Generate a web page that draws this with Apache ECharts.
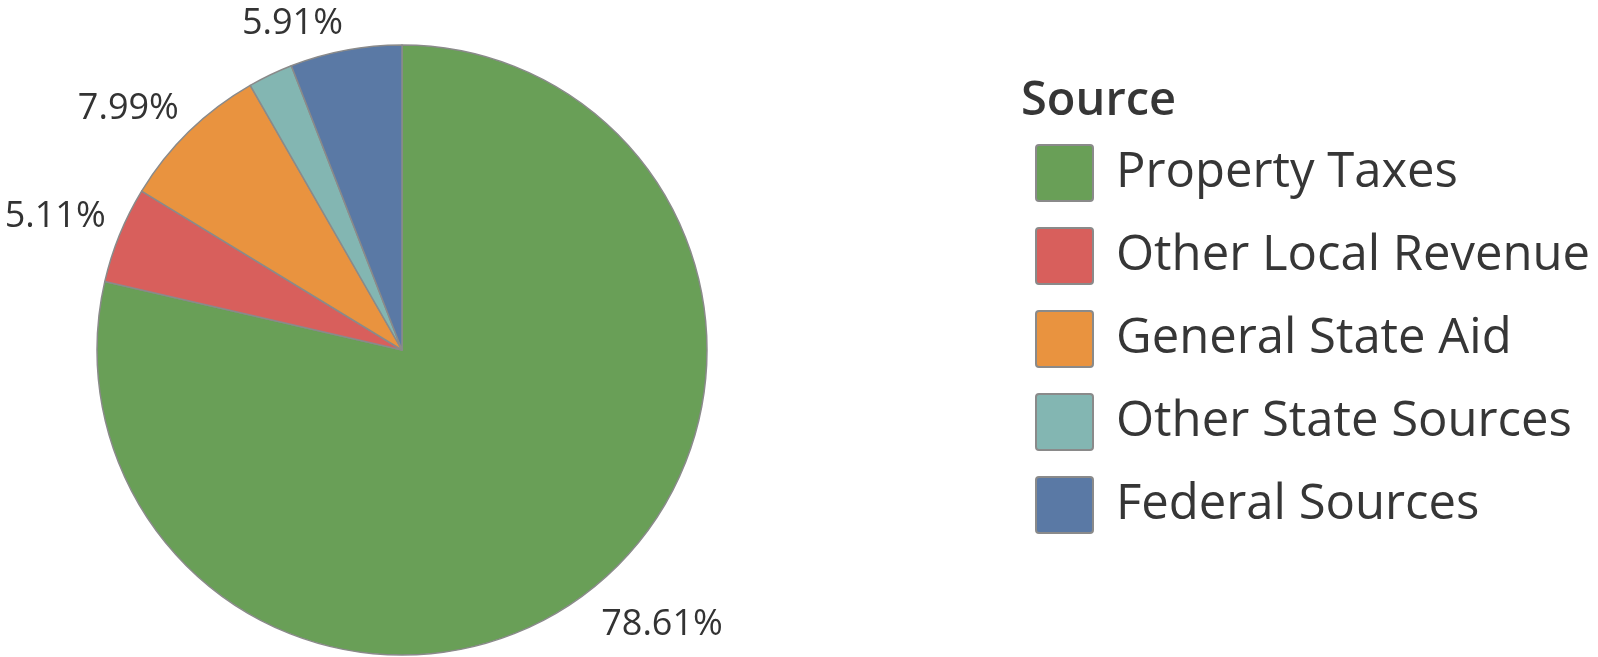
<!DOCTYPE html>
<html><head><meta charset="utf-8">
<script src="https://cdn.jsdelivr.net/npm/echarts@6/dist/echarts.min.js"></script>
<style>html,body{margin:0;padding:0;background:#fff}#c{width:1598px;height:657px}</style>
</head><body><div id="c"></div>
<script>
const categories = ['Property Taxes', 'Other Local Revenue', 'General State Aid', 'Other State Sources', 'Federal Sources'];
const shares = [78.61, 5.11, 7.99, 2.38, 5.91];
const showLabel = [true, true, true, false, true];
const colors = ['#699f57', '#d85f5c', '#e9933f', '#83b6b2', '#5a79a5'];
const legendTitle = 'Source';

const CX = 402, CY = 350, R = 305, LABEL_GAP = 15, LABEL_DY = 6;
const FONT = 'Open Sans';
const total = shares.reduce((a, b) => a + b, 0);

const chart = echarts.init(document.getElementById('c'), null, {renderer: 'canvas'});
chart.setOption({
  animation: false,
  color: colors,
  title: {
    text: legendTitle, left: 1021, top: 78, padding: 0,
    textStyle: {fontFamily: FONT, fontSize: 47, fontWeight: 600, color: '#363636'}
  },
  legend: {
    orient: 'vertical', left: 1030, top: 139,
    itemWidth: 57, itemHeight: 56, itemGap: 25,
    icon: 'path://M3,0 H54 Q57,0 57,3 V53 Q57,56 54,56 H3 Q0,56 0,53 V3 Q0,0 3,0 Z',
    selectedMode: false,
    itemStyle: {borderColor: '#8a8a8a', borderWidth: 2},
    textStyle: {fontFamily: FONT, fontSize: 49, color: '#363636', padding: [0, 0, 0, 18], lineHeight: 56},
    data: categories
  },
  series: [{
    type: 'pie',
    center: [CX, CY],
    radius: R,
    startAngle: 90,
    clockwise: true,
    itemStyle: {borderColor: '#8a8a8a', borderWidth: 1.5},
    label: {
      show: true, position: 'outside', overflow: 'none',
      fontFamily: FONT, fontSize: 36, color: '#333',
      formatter: p => p.value.toFixed(2) + '%'
    },
    labelLine: {show: false},
    labelLayout: function (p) {
      const i = p.dataIndex;
      let before = 0;
      for (let k = 0; k < i; k++) before += shares[k];
      const a = (before + shares[i] / 2) / total * 2 * Math.PI;
      const s = Math.sin(a), c = Math.cos(a);
      const d = R + LABEL_GAP;
      return {
        x: CX + d * s, y: CY - d * c + LABEL_DY,
        align: s < 0 ? 'right' : 'left',
        verticalAlign: c > 0 ? 'bottom' : 'top',
        width: 200
      };
    },
    emphasis: {disabled: true},
    data: categories.map((n, i) => ({name: n, value: shares[i], label: {show: showLabel[i]}}))
  }]
});
</script></body></html>
